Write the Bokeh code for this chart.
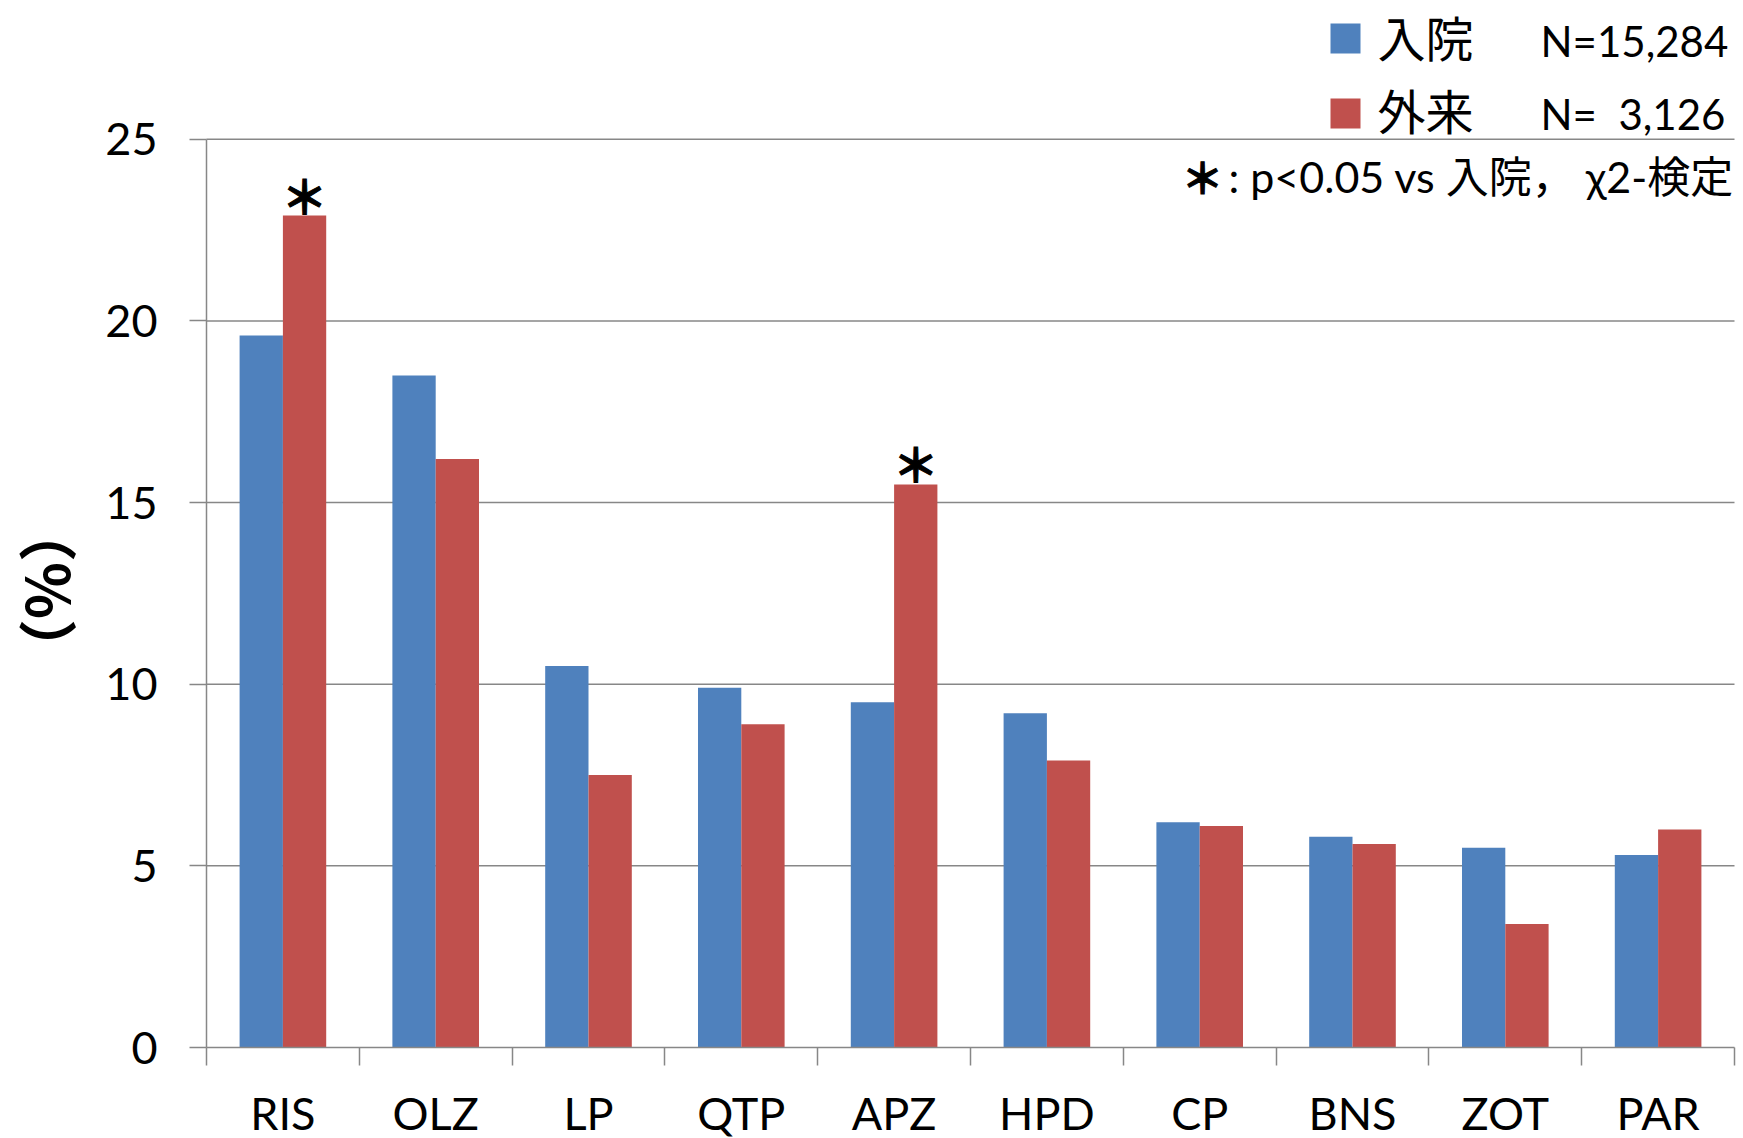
import math
from bokeh.plotting import figure
from bokeh.models import Range1d, FixedTicker
from bokeh.core.properties import value
from bokeh.embed import file_html
from bokeh.resources import INLINE

# ---------------- data ----------------
categories = ["RIS", "OLZ", "LP", "QTP", "APZ", "HPD", "CP", "BNS", "ZOT", "PAR"]
inpatient = [19.6, 18.5, 10.5, 9.9, 9.5, 9.2, 6.2, 5.8, 5.5, 5.3]
outpatient = [22.9, 16.2, 7.5, 8.9, 15.5, 7.9, 6.1, 5.6, 3.4, 6.0]
significant = ["RIS", "APZ"]
y_ticks = [0, 5, 10, 15, 20, 25]
series_names = ["入院", "外来"]
series_n = ["N=15,284", "N=\u00a0\u00a03,126"]
note_mark = "＊"
note_text = ": p<0.05 vs 入院， χ2-検定"
y_label = "（%）"

# ---------------- styles / layout ----------------
BLUE = "#4F81BD"
RED = "#C0504D"
GRID = "#878787"
LATIN = "Lato"
CJK = "Noto Sans CJK JP"

W, H = 1743, 1138
AXIS_X = 206        # px of the value axis
RIGHT_X = 1734      # px of the last category boundary
ZERO_Y = 1047       # px of value 0
PX_PER_UNIT = 36.33
BAR_W = 0.2834

n = len(categories)
cat_px = (RIGHT_X - AXIS_X) / n


def dx(px):
    return -0.5 + (px - AXIS_X) / cat_px


def dy(py):
    return (ZERO_Y - py) / PX_PER_UNIT


p = figure(width=W, height=H,
           x_range=Range1d(dx(0), dx(W)),
           y_range=Range1d(dy(H), dy(0)),
           output_backend="svg", toolbar_location=None, title=None,
           min_border_left=0, min_border_right=0,
           min_border_top=0, min_border_bottom=0)
p.outline_line_color = None
p.background_fill_color = "white"
p.border_fill_color = "white"
p.xgrid.visible = False
p.ygrid.visible = False

pos = list(range(n))
first, last = pos[0] - 0.5, pos[-1] + 0.5

# horizontal gridlines
grid_y = y_ticks[1:]
p.segment(x0=[first] * len(grid_y), x1=[last] * len(grid_y), y0=grid_y, y1=grid_y,
          line_color=GRID, line_width=1.5)

# bars
p.vbar(x=[i - BAR_W / 2 for i in pos], top=inpatient, bottom=0, width=BAR_W,
       fill_color=BLUE, line_color=None)
p.vbar(x=[i + BAR_W / 2 for i in pos], top=outpatient, bottom=0, width=BAR_W,
       fill_color=RED, line_color=None)

# significance marks
sig_x = [categories.index(c) + BAR_W / 2 for c in significant]
sig_y = [outpatient[categories.index(c)] for c in significant]
p.text(x=sig_x, y=sig_y, text=[note_mark] * len(sig_x), y_offset=-22,
       text_font=value(CJK), text_font_style="bold", text_font_size="46px",
       text_align="center", text_baseline="middle", text_color="black",
       text_outline_color="black")

# y axis (inside the frame, at the first category boundary)
ya = p.yaxis[0]
ya.fixed_location = first
ya.ticker = FixedTicker(ticks=y_ticks)
ya.bounds = (y_ticks[0], y_ticks[-1])
ya.axis_line_color = GRID
ya.axis_line_width = 1.5
ya.major_tick_line_color = GRID
ya.major_tick_line_width = 1.5
ya.major_tick_out = 17
ya.major_tick_in = 0
ya.minor_tick_line_color = None
ya.major_label_standoff = 32
ya.major_label_text_font = LATIN
ya.major_label_text_font_size = "45px"
ya.major_label_text_color = "black"

# x axis (inside the frame, at value 0)
xa = p.xaxis[0]
xa.fixed_location = 0
xa.bounds = (first, last)
xa.ticker = FixedTicker(ticks=pos, minor_ticks=[i - 0.5 for i in range(n + 1)])
xa.major_label_overrides = {i: c for i, c in zip(pos, categories)}
xa.axis_line_color = GRID
xa.axis_line_width = 1.5
xa.major_tick_out = 0
xa.major_tick_in = 0
xa.minor_tick_line_color = GRID
xa.minor_tick_line_width = 1.5
xa.minor_tick_out = 18
xa.minor_tick_in = 0
xa.major_label_standoff = 20
xa.major_label_text_font = LATIN
xa.major_label_text_font_size = "45px"
xa.major_label_text_color = "black"

# y axis title
p.text(x=[dx(44)], y=[dy(590)], text=[y_label], angle=math.pi / 2,
       text_align="center", text_baseline="middle",
       text_font=value(CJK), text_font_style="bold",
       text_font_size="59px", text_color="black")

# legend
p.rect(x=[dx(1345)] * 2, y=[dy(38), dy(113)], width=30, height=30,
       width_units="screen", height_units="screen",
       fill_color=[BLUE, RED], line_color=None)
p.text(x=[dx(1377)] * 2, y=[dy(35), dy(108)], text=series_names,
       text_font=value(CJK), text_font_size="48px", text_align="left",
       text_baseline="middle", text_color="black")
p.text(x=[dx(1540)] * 2, y=[dy(40), dy(113)], text=series_n,
       text_font=value(LATIN), text_font_size="42px", text_align="left",
       text_baseline="middle", text_color="black")
p.text(x=[dx(1202)], y=[dy(175)], text=[note_mark],
       text_font=value(CJK), text_font_style="bold", text_font_size="42px",
       text_align="center", text_baseline="middle", text_color="black",
       text_outline_color="black")
p.text(x=[dx(1228)], y=[dy(176)], text=[note_text],
       text_font=value("Lato, Noto Sans CJK JP"), text_font_size="43px",
       text_align="left", text_baseline="middle", text_color="black")

open("out.html", "w").write(file_html(p, INLINE))
